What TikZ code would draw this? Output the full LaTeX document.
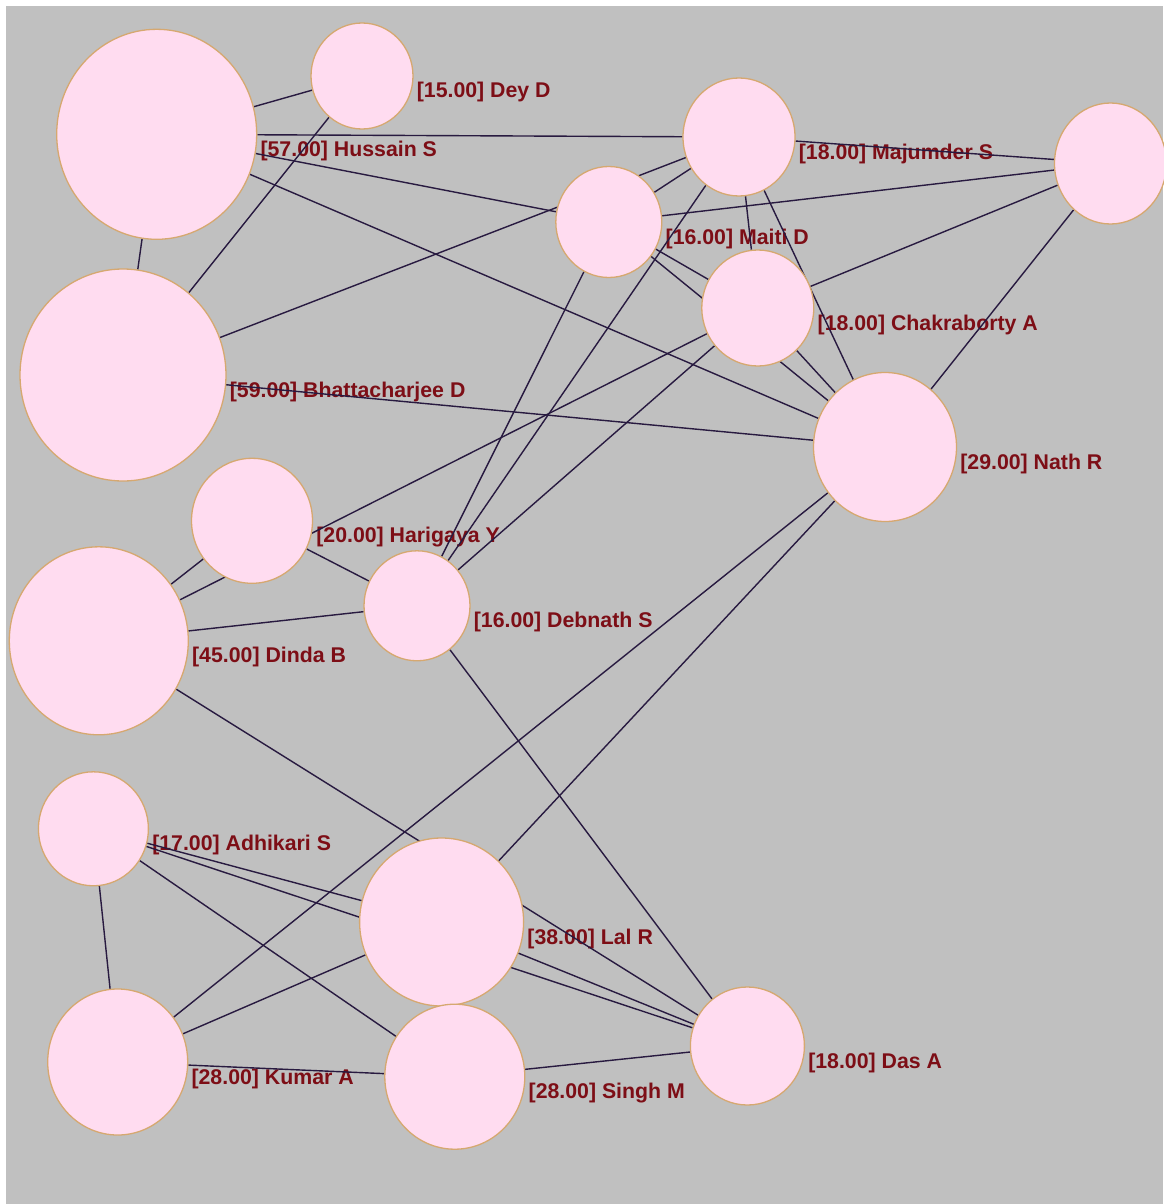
\documentclass[tikz,border=0pt]{standalone}
\usepackage{fontspec}
\setmainfont{Liberation Sans}
\usepackage{tikz}
\usetikzlibrary{shapes.geometric}
\definecolor{canvas}{RGB}{192,192,192}
\definecolor{nodepink}{RGB}{255,220,240}
\definecolor{nodeline}{RGB}{214,168,112}
\definecolor{edgeline}{RGB}{40,26,64}
\definecolor{labelred}{RGB}{125,14,22}
\pgfdeclarelayer{back}
\pgfdeclarelayer{labels}
\pgfdeclarelayer{edges}
\pgfsetlayers{back,labels,edges,main}

\begin{document}
\begin{tikzpicture}[x=1pt, y=-1pt]
    \tikzstyle{member}=[ellipse, draw=nodeline, fill=nodepink, line width=1.3pt, inner sep=0pt]
    \tikzstyle{tag}=[anchor=base west, inner sep=0pt, text=labelred, font=\bfseries\fontsize{21.3}{24}\selectfont]
    \tikzstyle{link}=[draw=edgeline, line width=1.4pt]
    \useasboundingbox (0, 0) rectangle (1163, 1204);
    \begin{pgfonlayer}{back}
    \fill[white] (0, 0) rectangle (1163, 1204);
    \fill[canvas] (6, 6) rectangle (1163, 1204);
    \end{pgfonlayer}
    \draw (156.7, 134.3) node[member, minimum width=200pt, minimum height=210pt] (hussain) {};
    \draw (362, 76) node[member, minimum width=102pt, minimum height=106pt] (dey) {};
    \draw (739, 137) node[member, minimum width=112pt, minimum height=118pt] (majumder) {};
    \draw (1110.5, 163.5) node[member, minimum width=112pt, minimum height=121pt] (rim) {};
    \draw (608.8, 222) node[member, minimum width=106pt, minimum height=111pt] (maiti) {};
    \draw (757.8, 308) node[member, minimum width=112pt, minimum height=116pt] (chakraborty) {};
    \draw (123, 375) node[member, minimum width=206pt, minimum height=212pt] (bhattacharjee) {};
    \draw (885, 447) node[member, minimum width=143pt, minimum height=149pt] (nath) {};
    \draw (252, 520.8) node[member, minimum width=121pt, minimum height=125pt] (harigaya) {};
    \draw (417, 605.8) node[member, minimum width=106pt, minimum height=110pt] (debnath) {};
    \draw (98.8, 640.8) node[member, minimum width=179pt, minimum height=188pt] (dinda) {};
    \draw (93.4, 828.8) node[member, minimum width=110pt, minimum height=114pt] (adhikari) {};
    \draw (441.6, 922) node[member, minimum width=164pt, minimum height=168pt] (lal) {};
    \draw (117.7, 1062) node[member, minimum width=140pt, minimum height=146pt] (kumar) {};
    \draw (454.8, 1076.7) node[member, minimum width=140pt, minimum height=145pt] (singh) {};
    \draw (747.4, 1046) node[member, minimum width=114pt, minimum height=118pt] (das) {};
    \begin{pgfonlayer}{labels}
    \draw ([xshift=3pt, yshift=-22pt]hussain.east) node[tag] (hussaintag) {[57.00] Hussain S};
    \draw ([xshift=3pt, yshift=-22pt]dey.east) node[tag] (deytag) {[15.00] Dey D};
    \draw ([xshift=3pt, yshift=-22pt]majumder.east) node[tag] (majumdertag) {[18.00] Majumder S};
    \draw ([xshift=3pt, yshift=-22pt]maiti.east) node[tag] (maititag) {[16.00] Maiti D};
    \draw ([xshift=3pt, yshift=-22pt]chakraborty.east) node[tag] (chakrabortytag) {[18.00] Chakraborty A};
    \draw ([xshift=3pt, yshift=-22pt]bhattacharjee.east) node[tag] (bhattacharjeetag) {[59.00] Bhattacharjee D};
    \draw ([xshift=3pt, yshift=-22pt]nath.east) node[tag] (nathtag) {[29.00] Nath R};
    \draw ([xshift=3pt, yshift=-22pt]harigaya.east) node[tag] (harigayatag) {[20.00] Harigaya Y};
    \draw ([xshift=3pt, yshift=-22pt]debnath.east) node[tag] (debnathtag) {[16.00] Debnath S};
    \draw ([xshift=3pt, yshift=-22pt]dinda.east) node[tag] (dindatag) {[45.00] Dinda B};
    \draw ([xshift=3pt, yshift=-22pt]adhikari.east) node[tag] (adhikaritag) {[17.00] Adhikari S};
    \draw ([xshift=3pt, yshift=-22pt]lal.east) node[tag] (laltag) {[38.00] Lal R};
    \draw ([xshift=3pt, yshift=-22pt]kumar.east) node[tag] (kumartag) {[28.00] Kumar A};
    \draw ([xshift=3pt, yshift=-22pt]singh.east) node[tag] (singhtag) {[28.00] Singh M};
    \draw ([xshift=3pt, yshift=-22pt]das.east) node[tag] (dastag) {[18.00] Das A};
    \end{pgfonlayer}
    \begin{pgfonlayer}{edges}
    \draw[link] (hussain) -- (dey);
    \draw[link] (hussain) -- (majumder);
    \draw[link] (hussain) -- (maiti);
    \draw[link] (hussain) -- (nath);
    \draw[link] (hussain) -- (bhattacharjee);
    \draw[link] (dey) -- (bhattacharjee);
    \draw[link] (bhattacharjee) -- (majumder);
    \draw[link] (bhattacharjee) -- (nath);
    \draw[link] (majumder) -- (rim);
    \draw[link] (majumder) -- (maiti);
    \draw[link] (majumder) -- (chakraborty);
    \draw[link] (majumder) -- (nath);
    \draw[link] (majumder) -- (debnath);
    \draw[link] (rim) -- (maiti);
    \draw[link] (rim) -- (chakraborty);
    \draw[link] (rim) -- (nath);
    \draw[link] (maiti) -- (chakraborty);
    \draw[link] (maiti) -- (nath);
    \draw[link] (maiti) -- (debnath);
    \draw[link] (chakraborty) -- (nath);
    \draw[link] (chakraborty) -- (debnath);
    \draw[link] (chakraborty) -- (dinda);
    \draw[link] (harigaya) -- (dinda);
    \draw[link] (harigaya) -- (debnath);
    \draw[link] (debnath) -- (dinda);
    \draw[link] (debnath) -- (das);
    \draw[link] (dinda) -- (das);
    \draw[link] (adhikari) -- (lal);
    \draw[link] (adhikari) -- (das);
    \draw[link] (adhikari) -- (singh);
    \draw[link] (adhikari) -- (kumar);
    \draw[link] (kumar) -- (lal);
    \draw[link] (kumar) -- (nath);
    \draw[link] (kumar) -- (singh);
    \draw[link] (lal) -- (nath);
    \draw[link] (lal) -- (das);
    \draw[link] (singh) -- (das);
    \end{pgfonlayer}
\end{tikzpicture}
\end{document}
